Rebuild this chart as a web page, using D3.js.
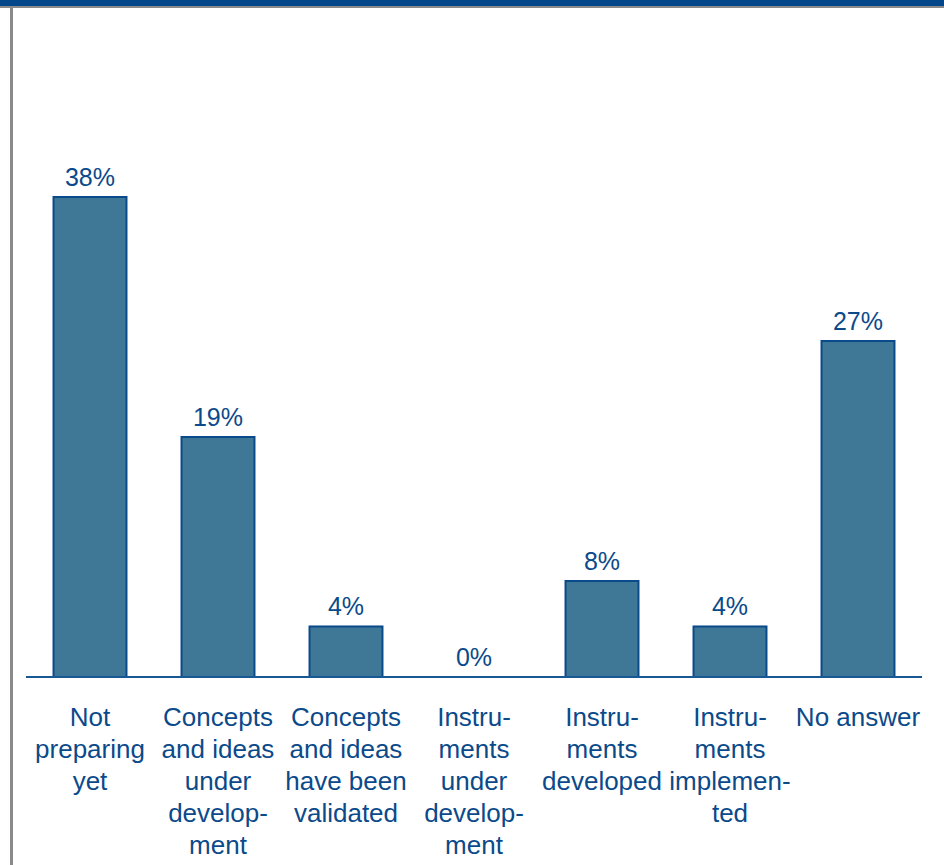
<!DOCTYPE html>
<html lang="en">
<head>
  <meta charset="UTF-8">
  <title>Preparation status</title>
  <script src="https://d3js.org/d3.v7.min.js"></script>
  <style>
    body {
      margin: 0;
      padding: 0;
      background: #fff;
      font-family: Arial, "Liberation Sans", sans-serif;
    }
    svg { display: block; }
  </style>
</head>
<body>
  <div id="vis"></div>

  <script>
    // chart data
    const categories = [
      "Not preparing yet",
      "Concepts and ideas under development",
      "Concepts and ideas have been validated",
      "Instruments under development",
      "Instruments developed",
      "Instruments implemented",
      "No answer"
    ];
    // label lines as they are broken in the picture
    const labelLines = [
      ["Not", "preparing", "yet"],
      ["Concepts", "and ideas", "under", "develop-", "ment"],
      ["Concepts", "and ideas", "have been", "validated"],
      ["Instru-", "ments", "under", "develop-", "ment"],
      ["Instru-", "ments", "developed"],
      ["Instru-", "ments", "implemen-", "ted"],
      ["No answer"]
    ];
    const values = [38, 19, 4, 0, 7.6, 4, 26.6];

    const width = 944, height = 865;
    const baseY = 677;
    const textColor = "#0b4a8a";

    const svg = d3.select("#vis").append("svg")
      .attr("width", width)
      .attr("height", height);

    // frame: blue band on top, grey rule under it and on the left
    svg.append("rect").attr("x", 0).attr("y", 0).attr("width", width).attr("height", 6).attr("fill", "#03478a");
    svg.append("rect").attr("x", 0).attr("y", 6).attr("width", width).attr("height", 2).attr("fill", "#8a8a8a");
    svg.append("rect").attr("x", 10).attr("y", 6).attr("width", 3).attr("height", height).attr("fill", "#8a8a8a");

    const x = d3.scaleBand()
      .domain(categories)
      .range([26, 922])
      .paddingInner(0.43)
      .paddingOuter(0.215);

    const y = d3.scaleLinear()
      .domain([0, 38])
      .range([baseY, 197]);

    const fmt = d3.format(".0f");

    svg.selectAll("rect.bar")
      .data(values)
      .enter().append("rect")
      .attr("class", "bar")
      .attr("x", (d, i) => x(categories[i]))
      .attr("y", d => y(d))
      .attr("width", x.bandwidth())
      .attr("height", d => baseY - y(d))
      .attr("fill", "#3f7797")
      .attr("stroke", "#0b4a8a")
      .attr("stroke-width", 2);

    // baseline
    svg.append("line")
      .attr("x1", 26).attr("x2", 922)
      .attr("y1", baseY).attr("y2", baseY)
      .attr("stroke", "#1a5894")
      .attr("stroke-width", 2);

    // value labels
    svg.selectAll("text.value")
      .data(values)
      .enter().append("text")
      .attr("class", "value")
      .attr("x", (d, i) => x(categories[i]) + x.bandwidth() / 2)
      .attr("y", d => y(d) - 11)
      .attr("text-anchor", "middle")
      .attr("fill", textColor)
      .style("font-size", "25px")
      .text(d => fmt(d) + "%");

    // category labels
    const cats = svg.selectAll("text.cat")
      .data(categories)
      .enter().append("text")
      .attr("class", "cat")
      .attr("text-anchor", "middle")
      .attr("fill", textColor)
      .style("font-size", "26px");

    cats.each(function (d, i) {
      const cx = x(d) + x.bandwidth() / 2;
      d3.select(this).selectAll("tspan")
        .data(labelLines[i])
        .enter().append("tspan")
        .attr("x", cx)
        .attr("y", (t, j) => 726 + j * 32)
        .text(t => t);
    });
  </script>
</body>
</html>
